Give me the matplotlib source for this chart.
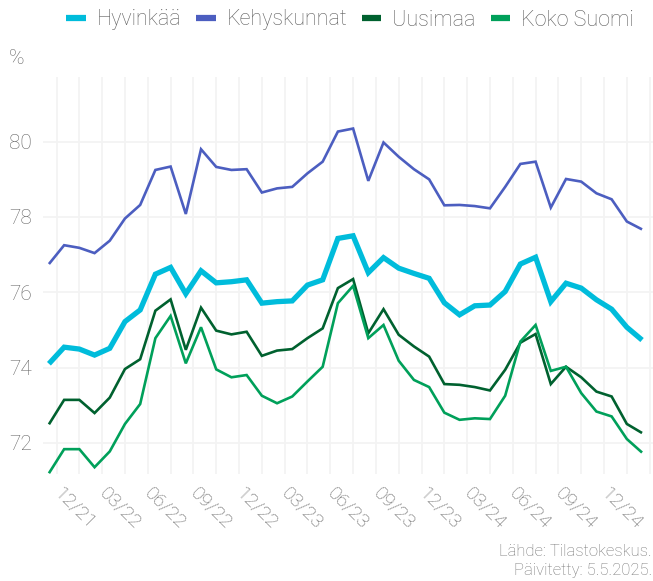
import matplotlib
matplotlib.use("Agg")
import matplotlib.pyplot as plt
from matplotlib.lines import Line2D

# ---- data (monthly, 11/2021 .. 02/2025) ----
series_names = ["Hyvinkää", "Kehyskunnat", "Uusimaa", "Koko Suomi"]

hyvinkaa = [74.10, 74.54, 74.49, 74.33, 74.51, 75.22, 75.53, 76.48, 76.66, 75.96,
            76.57, 76.25, 76.28, 76.33, 75.71, 75.75, 75.77, 76.19, 76.33, 77.43,
            77.50, 76.52, 76.92, 76.64, 76.50, 76.37, 75.72, 75.40, 75.64, 75.66,
            76.02, 76.75, 76.93, 75.75, 76.24, 76.11, 75.80, 75.55, 75.07, 74.73]
kehyskunnat = [76.75, 77.25, 77.18, 77.04, 77.37, 77.96, 78.32, 79.25, 79.34, 78.08,
               79.80, 79.33, 79.25, 79.27, 78.65, 78.76, 78.80, 79.16, 79.47, 80.27,
               80.35, 78.96, 79.98, 79.60, 79.27, 79.00, 78.31, 78.32, 78.29, 78.23,
               78.80, 79.41, 79.47, 78.25, 79.01, 78.94, 78.63, 78.47, 77.88, 77.67]
uusimaa = [72.49, 73.14, 73.14, 72.79, 73.20, 73.96, 74.22, 75.51, 75.81, 74.47,
           75.59, 74.98, 74.88, 74.95, 74.31, 74.45, 74.49, 74.78, 75.04, 76.11,
           76.35, 74.91, 75.55, 74.87, 74.56, 74.29, 73.56, 73.54, 73.48, 73.39,
           73.94, 74.66, 74.89, 73.56, 74.02, 73.74, 73.36, 73.23, 72.50, 72.26]
koko_suomi = [71.19, 71.83, 71.83, 71.35, 71.77, 72.50, 73.03, 74.78, 75.37, 74.11,
              75.07, 73.95, 73.74, 73.80, 73.25, 73.05, 73.23, 73.63, 74.02, 75.71,
              76.17, 74.78, 75.13, 74.18, 73.67, 73.48, 72.80, 72.61, 72.65, 72.63,
              73.25, 74.69, 75.13, 73.91, 74.02, 73.32, 72.83, 72.70, 72.10, 71.74]

tick_labels = ["12/21", "03/22", "06/22", "09/22", "12/22", "03/23", "06/23",
               "09/23", "12/23", "03/24", "06/24", "09/24", "12/24", ""]
y_ticks = [72, 74, 76, 78, 80]

colors = ["#00BCDB", "#4C5EC0", "#00612F", "#00A05A"]
widths = [3.8, 1.9, 1.9, 1.9]

plt.rcParams['font.family'] = ['Roboto', 'DejaVu Sans']
plt.rcParams['font.weight'] = 'light'
TXT = "#666666"

W, H = 653, 581
fig = plt.figure(figsize=(W / 100, H / 100), dpi=100)
fig.patch.set_facecolor("white")
left, right, top, bottom = 43, 653, 77, 474
ax = fig.add_axes([left / W, 1 - bottom / H, (right - left) / W, (bottom - top) / H])

x = list(range(len(hyvinkaa)))
all_series = [hyvinkaa, kehyskunnat, uusimaa, koko_suomi]
for idx in range(4):
    ax.plot(x, all_series[idx], color=colors[idx], lw=widths[idx],
            solid_joinstyle="miter", solid_capstyle="butt", zorder=3 + idx)

ax.set_xlim(-0.39, 39.72)
ax.set_ylim(71.17, 81.72)

major_x = [0.5 + 3 * k for k in range(len(tick_labels))]
minor_x = [2 + 3 * k for k in range(13)]
ax.set_xticks(major_x)
ax.set_xticklabels(tick_labels)
ax.set_xticks(minor_x, minor=True)
ax.set_yticks(y_ticks)
ax.set_yticklabels([str(v) for v in y_ticks])

ax.grid(True, which="both", axis="x", color="#F3F3F3", lw=1.3, zorder=0)
ax.grid(True, which="major", axis="y", color="#F3F3F3", lw=1.3, zorder=0)
ax.set_axisbelow(True)
for s in ax.spines.values():
    s.set_visible(False)
ax.tick_params(axis="both", which="both", length=0)
ax.tick_params(axis="y", labelsize=15, labelcolor=TXT, pad=8)
ax.tick_params(axis="x", labelsize=14, labelcolor=TXT, pad=12)
for lab in ax.get_xticklabels():
    lab.set_rotation(-45)
    lab.set_ha("left")
    lab.set_va("center")
    lab.set_rotation_mode("anchor")

# "%" label
fig.text(9 / W, 1 - 59 / H, "%", fontsize=15, color=TXT, ha="left", va="center")

# legend
handles = [Line2D([0], [0], color=c, lw=4.5, solid_capstyle="butt") for c in colors]
leg = fig.legend(handles, series_names, loc="center", bbox_to_anchor=(350 / W, 1 - 20 / H),
                 ncol=4, frameon=False, fontsize=15.5, handlelength=0.9,
                 handletextpad=0.5, columnspacing=0.7, borderaxespad=0)
for t in leg.get_texts():
    t.set_color("#5e5e5e")

# caption
fig.text(1 - 1 / W, 1 - 552 / H, "Lähde: Tilastokeskus.", fontsize=12,
         color="#777777", ha="right", va="center")
fig.text(1 - 1 / W, 1 - 570 / H, "Päivitetty: 5.5.2025.", fontsize=12,
         color="#777777", ha="right", va="center")

fig.savefig("out.png", dpi=100)
